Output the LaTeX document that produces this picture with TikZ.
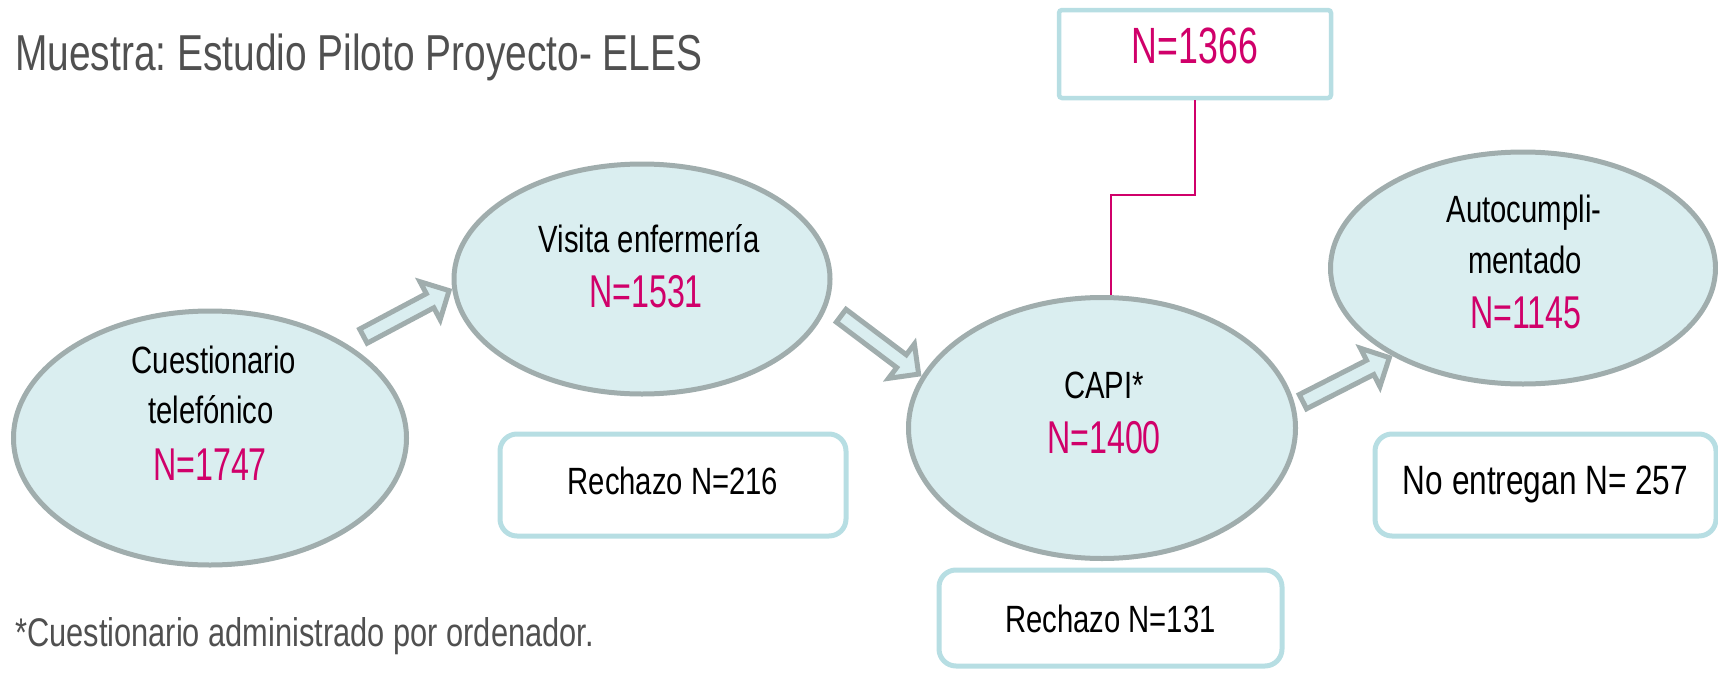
\documentclass[tikz,border=0pt]{standalone}
\usepackage{fontspec}
\setmainfont[FakeStretch=0.77]{Liberation Sans}
\newfontfamily\numfont[FakeStretch=0.7]{Liberation Sans}
\usetikzlibrary{shapes.geometric,shapes.arrows,calc}
\frenchspacing
\definecolor{elfill}{HTML}{DAEEF0}
\definecolor{elline}{HTML}{A0ADAD}
\definecolor{boxline}{HTML}{B7DEE3}
\definecolor{npink}{HTML}{D0006A}
\definecolor{titlegray}{HTML}{505050}
\tikzstyle{etapa}=[ellipse, draw=elline, line width=5pt, fill=elfill, inner sep=0pt]
\tikzstyle{caja}=[draw=boxline, line width=5pt, rounded corners=17pt, fill=white, inner sep=0pt, text height=60pt, text depth=42pt, font=\fontsize{38}{46}\selectfont]
\tikzstyle{flecha}=[single arrow, draw=elline, line width=5pt, fill=elfill, inner xsep=0pt, inner ysep=5.5pt, single arrow head extend=13.5pt, minimum height=97pt]
\tikzstyle{txt}=[anchor=base, inner sep=0pt, font=\fontsize{38}{46}\selectfont]
\tikzstyle{num}=[anchor=base, inner sep=0pt, text=npink, font=\numfont\fontsize{46}{55}\selectfont]

\begin{document}
\begin{tikzpicture}[x=1pt,y=-1pt]
	\useasboundingbox (0,0) rectangle (1718,672);
	\node[anchor=base west, inner sep=0pt, text=titlegray, font=\fontsize{50.5}{60}\selectfont] (titulo) at (15,70) {Muestra: Estudio Piloto Proyecto- ELES};
	% etapas
	\node[etapa, minimum width=393pt, minimum height=254pt] (tel) at (210,438) {};
	\node[etapa, minimum width=376pt, minimum height=230pt] (visita) at (642,279) {};
	\node[etapa, minimum width=387pt, minimum height=261pt] (capi) at (1102,428) {};
	\node[etapa, minimum width=385pt, minimum height=232pt] (auto) at (1523,268) {};
	\node[txt] (tel-a) at (214,373) {Cuestionario};
	\node[txt] (tel-b) at (211,423) {telefónico};
	\node[num] (tel-n) at (210,480) {N=1747};
	\node[txt] (visita-a) at (649,252) {Visita enfermería};
	\node[num] (visita-n) at (646,307) {N=1531};
	\node[txt] (capi-a) at (1104,398) {CAPI*};
	\node[num] (capi-n) at (1104,453) {N=1400};
	\node[txt] (auto-a) at (1524,222) {Autocumpli-};
	\node[txt] (auto-b) at (1525,273) {mentado};
	\node[num] (auto-n) at (1526,328) {N=1145};
	% flechas
	\node[flecha, rotate=28, anchor=tip] (f1) at (visita.183) {};
	\node[flecha, rotate=-37, anchor=tip] (f2) at (capi.164) {};
	\node[flecha, rotate=27, anchor=tip] (f3) at (auto.214) {};
	% cajas
	\node[caja, minimum width=346pt, minimum height=102pt] (rech1) at (673,485) {Rechazo N=216};
	\node[caja, minimum width=341pt, minimum height=102pt, font=\fontsize{41}{48}\selectfont] (noent) at (1545.5,485) {No entregan N= 257};
	\node[caja, minimum width=343pt, minimum height=96pt, text height=62pt, text depth=34pt] (rech2) at (1110.5,618) {Rechazo N=131};
	\node[caja, rounded corners=3pt, line width=4.5pt, minimum width=272pt, minimum height=88pt, text height=53pt, text depth=35pt, text=npink, font=\numfont\fontsize{51}{60}\selectfont] (n1366) at (1195,54) {N=1366};
	\draw[npink, line width=2pt] (n1366.south) -- ++(0,95) -| (capi.86);
	\node[anchor=base west, inner sep=0pt, text=titlegray, font=\fontsize{40}{46}\selectfont] (nota) at (15,646) {*Cuestionario administrado por ordenador.};
\end{tikzpicture}
\end{document}
